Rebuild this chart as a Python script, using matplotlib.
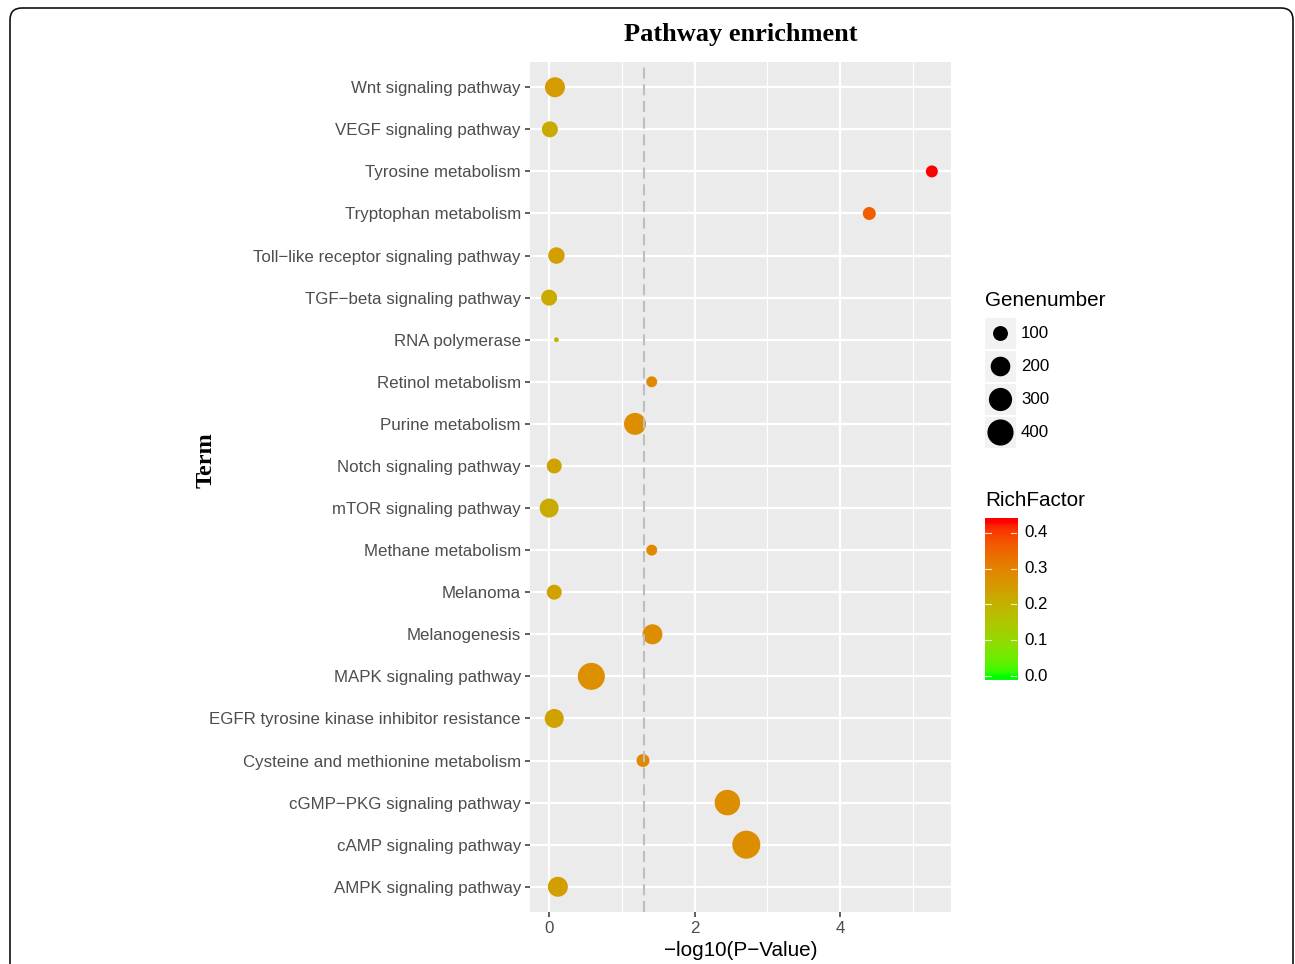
import numpy as np
import matplotlib
matplotlib.use('Agg')
import matplotlib.pyplot as plt
from matplotlib.colors import ListedColormap, Normalize
from matplotlib.patches import FancyBboxPatch, Rectangle

# Chart data (top row first)
terms = [
    'Wnt signaling pathway', 'VEGF signaling pathway', 'Tyrosine metabolism',
    'Tryptophan metabolism', 'Toll\u2212like receptor signaling pathway',
    'TGF\u2212beta signaling pathway', 'RNA polymerase', 'Retinol metabolism',
    'Purine metabolism', 'Notch signaling pathway', 'mTOR signaling pathway',
    'Methane metabolism', 'Melanoma', 'Melanogenesis', 'MAPK signaling pathway',
    'EGFR tyrosine kinase inhibitor resistance',
    'Cysteine and methionine metabolism', 'cGMP\u2212PKG signaling pathway',
    'cAMP signaling pathway', 'AMPK signaling pathway',
]
neg_log_p = [0.08, 0.01, 5.26, 4.40, 0.10, 0.00, 0.10, 1.41, 1.18, 0.07,
             0.00, 1.41, 0.07, 1.42, 0.58, 0.07, 1.29, 2.45, 2.71, 0.12]
gene_number = [209, 120, 57, 70, 129, 120, 12, 45, 264, 101,
               185, 45, 101, 209, 432, 185, 70, 377, 470, 209]
rich_factor = [0.25, 0.22, 0.43, 0.36, 0.245, 0.215, 0.21, 0.29, 0.28, 0.235,
               0.215, 0.29, 0.235, 0.28, 0.275, 0.235, 0.29, 0.28, 0.28, 0.245]
size_breaks = [100, 200, 300, 400]
color_breaks = [0.0, 0.1, 0.2, 0.3, 0.4]
cutoff = 1.30

W, H, DPI = 1295, 964, 100
TEXT_GREY = '#4D4D4D'
PANEL_BG = '#EBEBEB'
SANS = 'Liberation Sans'
SERIF = 'Liberation Serif'

# ---- green -> red gradient in Lab space (like ggplot's scale_colour_gradient)
WHITE = np.array([0.95047, 1.0, 1.08883])
M = np.array([[0.4124564, 0.3575761, 0.1804375],
              [0.2126729, 0.7151522, 0.0721750],
              [0.0193339, 0.1191920, 0.9503041]])


def rgb_to_lab(rgb):
    c = np.asarray(rgb, float)
    lin = np.where(c <= 0.04045, c / 12.92, ((c + 0.055) / 1.055) ** 2.4)
    xyz = lin @ M.T / WHITE
    d = 6 / 29
    f = np.where(xyz > d ** 3, np.cbrt(xyz), xyz / (3 * d * d) + 4 / 29)
    return np.stack([116 * f[..., 1] - 16,
                     500 * (f[..., 0] - f[..., 1]),
                     200 * (f[..., 1] - f[..., 2])], axis=-1)


def lab_to_rgb(lab):
    L, a, b = lab[..., 0], lab[..., 1], lab[..., 2]
    fy = (L + 16) / 116
    f = np.stack([fy + a / 500, fy, fy - b / 200], axis=-1)
    d = 6 / 29
    xyz = np.where(f > d, f ** 3, 3 * d * d * (f - 4 / 29)) * WHITE
    lin = xyz @ np.linalg.inv(M).T
    lin = np.clip(lin, 0, 1)
    rgb = np.where(lin <= 0.0031308, 12.92 * lin, 1.055 * lin ** (1 / 2.4) - 0.055)
    return np.clip(rgb, 0, 1)


t = np.linspace(0, 1, 256)[:, None]
lab_lo, lab_hi = rgb_to_lab([0, 1, 0]), rgb_to_lab([1, 0, 0])
cmap = ListedColormap(lab_to_rgb(lab_lo + t * (lab_hi - lab_lo)))
norm = Normalize(vmin=0.0, vmax=max(rich_factor))

# ---- size scale: diameter grows with sqrt of rescaled gene number
D_MIN, D_MAX = 4.7, 28.0   # diameters in pixels
n_lo, n_hi = min(gene_number), max(gene_number)


def marker_area(n):
    n = np.asarray(n, float)
    d_px = D_MIN + (D_MAX - D_MIN) * np.sqrt((n - n_lo) / (n_hi - n_lo))
    return (d_px * 72 / DPI) ** 2


def px_box(x0, y0, x1, y1):
    # pixel box (top-left origin) -> figure fraction rect
    return [x0 / W, 1 - y1 / H, (x1 - x0) / W, (y1 - y0) / H]


fig = plt.figure(figsize=(W / DPI, H / DPI), dpi=DPI)
fig.patch.set_facecolor('white')

# rounded frame around the figure (bottom edge runs off the image)
frame = FancyBboxPatch((0.10, -0.30), 12.83, 9.86,
                       boxstyle='round,pad=0,rounding_size=0.12',
                       transform=fig.dpi_scale_trans, facecolor='none',
                       edgecolor='#111111', linewidth=1.2, clip_on=False)
fig.patches.append(frame)

# ---- main panel
ax = fig.add_axes(px_box(530, 62, 951, 912))
ax.set_facecolor(PANEL_BG)
ypos = np.arange(len(terms))
ax.scatter(neg_log_p, ypos, s=marker_area(gene_number), c=rich_factor,
           cmap=cmap, norm=norm, linewidths=0, zorder=3)
ax.axvline(cutoff, color='#BEBEBE', linewidth=1.5, dashes=(5.3, 2.7), zorder=4)

x_lo, x_hi = min(neg_log_p), max(neg_log_p)
pad = 0.05 * (x_hi - x_lo)
ax.set_xlim(x_lo - pad, x_hi + pad)
ax.set_ylim(len(terms) - 0.4, -0.6)
ax.set_yticks(ypos)
ax.set_yticklabels(terms)
ax.set_xticks([0, 2, 4])
ax.set_xticks([1, 3, 5], minor=True)
ax.grid(which='major', color='white', linewidth=1.6, zorder=0)
ax.grid(which='minor', axis='x', color='white', linewidth=0.8, zorder=0)
ax.set_axisbelow(True)
for sp in ax.spines.values():
    sp.set_visible(False)
ax.tick_params(axis='both', which='major', length=3.5, width=1.1,
               color='#333333', labelcolor=TEXT_GREY, labelsize=12.2, pad=3)
ax.tick_params(axis='x', which='minor', length=0)
for lab in ax.get_xticklabels() + ax.get_yticklabels():
    lab.set_family(SANS)

fig.text(740.5 / W, 1 - 35 / H, 'Pathway enrichment', ha='center', va='center',
         family=SERIF, fontweight='bold', fontsize=19)
fig.text(206 / W, 1 - 460 / H, 'Term', ha='center', va='center', rotation=90,
         family=SERIF, fontweight='bold', fontsize=17.5)
fig.text(740.5 / W, 1 - 951 / H, '\u2212log10(P\u2212Value)', ha='center',
         va='center', family=SANS, fontsize=14.9)

# ---- Genenumber legend
fig.text(985 / W, 1 - 301 / H, 'Genenumber', ha='left', va='center',
         family=SANS, fontsize=14.9)
lg = fig.add_axes(px_box(985, 318, 1016, 450))
lg.set_xlim(985, 1016)
lg.set_ylim(450, 318)
lg.axis('off')
key_h = 33
for i, n in enumerate(size_breaks):
    top = 318 + i * key_h
    lg.add_patch(Rectangle((985, top), 31, key_h - 2, facecolor='#F2F2F2',
                           edgecolor='none'))
    cy = top + (key_h - 2) / 2
    lg.scatter([1000.5], [cy], s=marker_area(n), color='black', linewidths=0,
               clip_on=False)
    lg.text(1021, cy, str(n), ha='left', va='center', family=SANS,
            fontsize=12.2, clip_on=False)

# ---- RichFactor colorbar
fig.text(985 / W, 1 - 500 / H, 'RichFactor', ha='left', va='center',
         family=SANS, fontsize=14.9)
cb = fig.add_axes(px_box(985, 518, 1017, 680))
half = (norm.vmax - norm.vmin) / 40
vals = np.linspace(norm.vmin - half, norm.vmax + half, 300)
cb.imshow(vals[:, None], cmap=cmap, norm=norm, aspect='auto', origin='lower',
          extent=[0, 1, vals[0], vals[-1]])
cb.set_xlim(0, 1)
cb.set_ylim(vals[0], vals[-1])
cb.set_xticks([])
cb.set_yticks([])
for sp in cb.spines.values():
    sp.set_visible(False)
for v in color_breaks:
    cb.plot([0, 0.2], [v, v], color='white', linewidth=0.8, alpha=0.8)
    cb.plot([0.8, 1], [v, v], color='white', linewidth=0.8, alpha=0.8)
    cb.text(1.22, v, f'{v:.1f}', ha='left', va='center', family=SANS,
            fontsize=12.2, transform=cb.get_yaxis_transform(), clip_on=False)

fig.savefig('out.png', dpi=DPI)
